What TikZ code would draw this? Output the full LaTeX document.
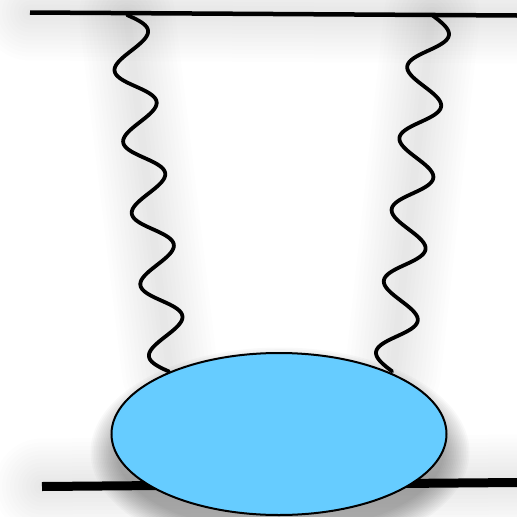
\documentclass[tikz,border=0pt]{standalone}
\usetikzlibrary{shapes.geometric}
\definecolor{blobblue}{HTML}{66CCFF}
\tikzset{
  lepton/.style={line width=4.5pt, line cap=butt},
  heavy/.style={line width=9pt, line cap=butt},
  photon/.style={line width=3.8pt, line join=round, line cap=round},
  blob/.style={ellipse, draw, line width=2pt, fill=blobblue, inner sep=0pt,
     minimum width=335pt, minimum height=162pt},
  glowlayer/.style={black, opacity=0.009, line width=#1, line cap=round}
}
\begin{document}
\begin{tikzpicture}[x=1pt,y=-1pt]
\useasboundingbox (0,0) rectangle (517,517);
% named points
\coordinate (tl) at (30,12.5);
\coordinate (tr) at (517,15.5);
\coordinate (bl) at (42,486.5);
\coordinate (br) at (517,482.5);
\coordinate (p1a) at (127,15);
\coordinate (p1b) at (170,372);
\coordinate (p2a) at (432,15);
\coordinate (p2b) at (393,372);
% soft shadows
\begin{scope}[shift={(0,16)}]
\foreach \w in {8,16,...,96} {
  \draw[glowlayer=\w pt] (tl) -- (tr);
  \draw[glowlayer=\w pt] (p1a) -- (p1b);
  \draw[glowlayer=\w pt] (p2a) -- (p2b);
  \draw[glowlayer=\w pt] (bl) -- (br);
}
\end{scope}
\foreach \i in {0,...,15} {
  \fill[black, opacity=0.022] (280,452) ellipse ({164+\i*1.7} and {79+\i*1.7});
}
% lines
\draw[lepton] (tl) -- (tr);
\draw[heavy] (bl) -- (br);
\draw[photon] plot[domain=0:1, samples=400]
  ({127+43*\x + 19*0.9928*sin(1800*\x)}, {15+357*\x - 19*0.1196*sin(1800*\x)});
\draw[photon] plot[domain=0:1, samples=400]
  ({432-39*\x + 19*0.9941*sin(1800*\x)}, {15+357*\x + 19*0.1086*sin(1800*\x)});
\node[blob] (b) at (279,434) {};
\end{tikzpicture}
\end{document}
